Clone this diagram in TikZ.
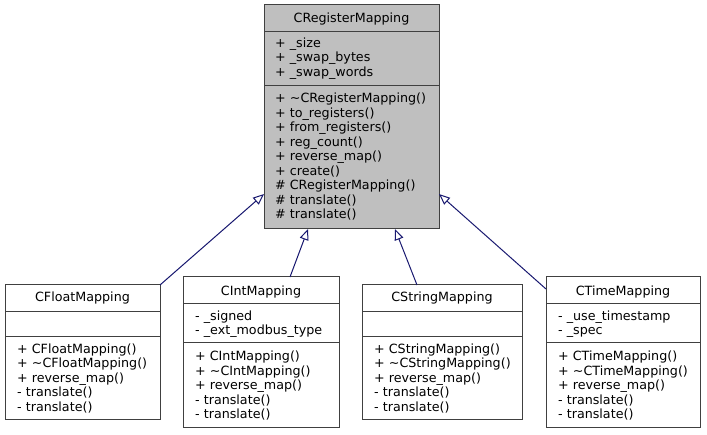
\documentclass[tikz,border=0pt]{standalone}
\usepackage{fontspec}
\setmainfont{DejaVu Sans}
\usetikzlibrary{arrows.meta}
\definecolor{bordergray}{HTML}{404040}
\definecolor{basefill}{HTML}{BFBFBF}
\definecolor{edgeblue}{HTML}{191970}
\begin{document}
\begin{tikzpicture}[x=1pt,y=-1pt,
  cls/.style={draw=bordergray, line width=1pt, fill=white, inner sep=0pt, outer sep=0pt},
  sepline/.style={draw=bordergray, line width=1pt},
  title/.style={anchor=base, inner sep=0pt, font=\fontsize{12.7}{14.5}\selectfont},
  txt/.style={anchor=north west, align=left, inner sep=0pt, font=\fontsize{12.7}{14.5}\selectfont},
  inherit/.style={draw=edgeblue, line width=1pt, -{Triangle[open, length=11pt, width=9pt, fill=white]}}
]
\useasboundingbox (0,0) rectangle (707,435);

% base class
\node[cls, fill=basefill, minimum width=175pt, minimum height=224pt] (base) at (351.5,117) {};
\draw[sepline] (264,32) -- (439,32);
\draw[sepline] (264,86) -- (439,86);
\node[title] (baseT) at (351.5,23) {CRegisterMapping};
\node[txt] (baseA) at (275,37) {\rule{0pt}{10pt}+ \_size\\+ \_swap\_bytes\\+ \_swap\_words};
\node[txt] (baseM) at (275,92.5) {\rule{0pt}{10pt}+ \textasciitilde CRegisterMapping()\\+ to\_registers()\\+ from\_registers()\\+ reg\_count()\\+ reverse\_map()\\+ create()\\\# CRegisterMapping()\\\# translate()\\\# translate()};

% CFloatMapping
\node[cls, minimum width=155pt, minimum height=135pt] (float) at (82.5,352.5) {};
\draw[sepline] (5,311.5) -- (160,311.5);
\draw[sepline] (5,337) -- (160,337);
\node[title] (floatT) at (82.5,302) {CFloatMapping};
\node[txt] (floatM) at (17,343) {\rule{0pt}{10pt}+ CFloatMapping()\\+ \textasciitilde CFloatMapping()\\+ reverse\_map()\\- translate()\\- translate()};

% CIntMapping
\node[cls, minimum width=156pt, minimum height=151pt] (int) at (261,352.5) {};
\draw[sepline] (183,304) -- (339,304);
\draw[sepline] (183,343) -- (339,343);
\node[title] (intT) at (261,296) {CIntMapping};
\node[txt] (intA) at (195,310) {\rule{0pt}{10pt}- \_signed\\- \_ext\_modbus\_type};
\node[txt] (intM) at (195,350.5) {\rule{0pt}{10pt}+ CIntMapping()\\+ \textasciitilde CIntMapping()\\+ reverse\_map()\\- translate()\\- translate()};

% CStringMapping
\node[cls, minimum width=160pt, minimum height=135pt] (string) at (442,352.5) {};
\draw[sepline] (362,311.5) -- (522,311.5);
\draw[sepline] (362,337) -- (522,337);
\node[title] (stringT) at (442,302) {CStringMapping};
\node[txt] (stringM) at (374,343) {\rule{0pt}{10pt}+ CStringMapping()\\+ \textasciitilde CStringMapping()\\+ reverse\_map()\\- translate()\\- translate()};

% CTimeMapping
\node[cls, minimum width=154pt, minimum height=151pt] (time) at (623,352.5) {};
\draw[sepline] (546,304) -- (700,304);
\draw[sepline] (546,343) -- (700,343);
\node[title] (timeT) at (623,296) {CTimeMapping};
\node[txt] (timeA) at (558,310) {\rule{0pt}{10pt}- \_use\_timestamp\\- \_spec};
\node[txt] (timeM) at (558,350.5) {\rule{0pt}{10pt}+ CTimeMapping()\\+ \textasciitilde CTimeMapping()\\+ reverse\_map()\\- translate()\\- translate()};

% inheritance
\draw[inherit] (float.north east) -- ([yshift=35pt]base.south west);
\draw[inherit] ([xshift=107pt]int.north west) -- ([xshift=44pt]base.south west);
\draw[inherit] ([xshift=55pt]string.north west) -- ([xshift=131pt]base.south west);
\draw[inherit] ([yshift=-12pt]time.north west) -- ([yshift=35pt]base.south east);
\end{tikzpicture}
\end{document}
